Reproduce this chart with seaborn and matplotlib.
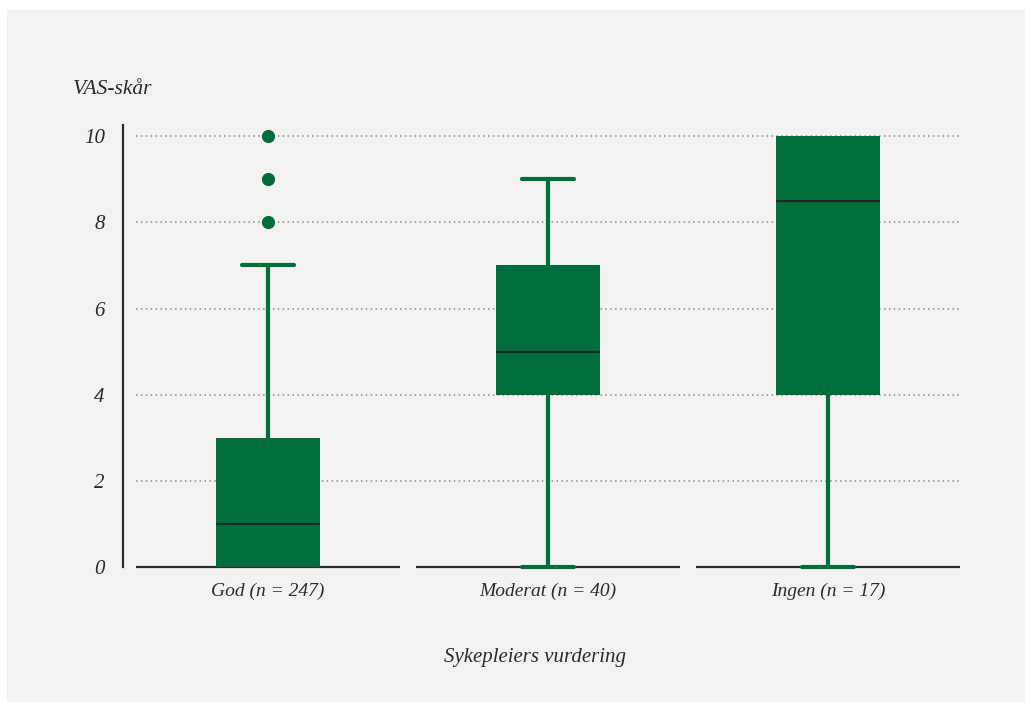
import matplotlib
matplotlib.use("Agg")
import matplotlib.pyplot as plt
import seaborn as sns

# ---- data ----
categories = ["God (n = 247)", "Moderat (n = 40)", "Ingen (n = 17)"]
whisker_low = [0, 0, 0]
q1 = [0, 4, 4]
median = [1, 5, 8.5]
q3 = [3, 7, 10]
whisker_high = [7, 9, 10]
outliers = [[8, 9, 10], [], []]
yticks = [0, 2, 4, 6, 8, 10]
ylabel_text = "VAS-skår"
xlabel_text = "Sykepleiers vurdering"

GREEN = "#006d3d"
BG = "#f3f2f0"
DARK = "#2b2b2b"

sns.set_theme(style="white")
plt.rcParams["font.family"] = ["Liberation Serif", "DejaVu Serif"]
plt.rcParams["font.style"] = "italic"

fig = plt.figure(figsize=(10.25, 7.02), dpi=100)
fig.patch.set_facecolor("white")
# grey panel
fig.patches.append(plt.Rectangle((7 / 1025, 0), 1 - 7 / 1025, 1 - 10 / 702,
                                 transform=fig.transFigure, facecolor=BG,
                                 edgecolor="none", zorder=-10))

ax = fig.add_axes([123 / 1025, 1 - 567 / 702, (975 - 123) / 1025, (567 - 125) / 702])
ax.set_facecolor("none")

positions = list(range(len(categories)))
stats = []
for i, name in enumerate(categories):
    stats.append(dict(label=name, whislo=whisker_low[i], q1=q1[i], med=median[i],
                      q3=q3[i], whishi=whisker_high[i], fliers=outliers[i]))

# gridlines and baseline segments
for y in yticks[1:]:
    ax.hlines(y, -0.47, 2.47, colors="#8a8a8a", linestyles=(0, (1, 2.2)), lw=1.1, zorder=0)
for p in positions:
    ax.hlines(0, p - 0.47, p + 0.47, colors=DARK, lw=1.6, zorder=1, clip_on=False)

artists = ax.bxp(stats, positions=positions, widths=0.37, capwidths=0.185,
                 patch_artist=True, showfliers=True,
                 boxprops=dict(facecolor=GREEN, edgecolor=GREEN, linewidth=0),
                 whiskerprops=dict(color=GREEN, linewidth=3),
                 capprops=dict(color=GREEN, linewidth=3),
                 medianprops=dict(color="#1b2a22", linewidth=1.5),
                 flierprops=dict(marker="o", markerfacecolor=GREEN,
                                 markeredgecolor=GREEN, markersize=8.5))
zorders = {"boxes": 3, "medians": 4, "whiskers": 2, "caps": 2, "fliers": 2, "means": 2}
for k in artists:
    for a in artists[k]:
        a.set_clip_on(False)
        a.set_zorder(zorders.get(k, 2))
# caps coinciding with a box edge are hidden by the box
for i, p in enumerate(positions):
    lo_cap, hi_cap = artists["caps"][2 * i], artists["caps"][2 * i + 1]
    if whisker_low[i] == q1[i]:
        lo_cap.set_visible(False)
    if whisker_high[i] == q3[i]:
        hi_cap.set_visible(False)

ax.set_xlim(-0.518, 2.525)
ax.set_ylim(0, 10.26)
ax.set_yticks(yticks)
ax.set_yticklabels([str(t) for t in yticks], fontsize=15, color=DARK)
ax.set_xticks(positions)
ax.set_xticklabels(categories, fontsize=14, color=DARK)
ax.tick_params(axis="both", length=0)
ax.tick_params(axis="y", pad=13)
ax.tick_params(axis="x", pad=11)

for s in ["top", "right", "bottom"]:
    ax.spines[s].set_visible(False)
ax.spines["left"].set_color(DARK)
ax.spines["left"].set_linewidth(1.6)

ax.set_xlabel(xlabel_text, fontsize=15, color=DARK)
ax.xaxis.set_label_coords((535 - 123) / (975 - 123), -(648 - 567) / (567 - 125))
fig.text(73 / 1025, 1 - 90 / 702, ylabel_text, fontsize=15.5, color=DARK,
         ha="left", va="center")

fig.savefig("out.png", dpi=100, facecolor=fig.get_facecolor())
